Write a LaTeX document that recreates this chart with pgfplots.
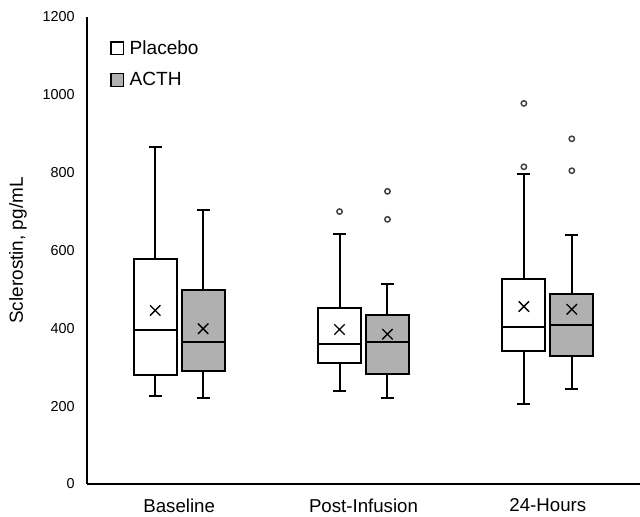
\documentclass[border=0pt]{standalone}
\usepackage{pgfplots}
\pgfplotsset{compat=1.18}
\usetikzlibrary{calc}
\usepackage{fontspec}
\setmainfont{Liberation Sans}
\definecolor{boxgray}{RGB}{176,176,176}

\begin{document}
\begin{tikzpicture}
\begin{axis}[name=ax, scale only axis, width=414.75pt, height=350.25pt,
  xmin=-0.5, xmax=2.5, ymin=0, ymax=1200,
  axis lines*=left,
  axis line style={line width=1.5pt, -},
  xtick={0,1,2}, xticklabels={Baseline,Post-Infusion,24-Hours},
  ytick={0,200,400,600,800,1000,1200},
  major tick length=0pt,
  xticklabel style={font=\fontsize{14}{16}\selectfont, inner sep=0pt, anchor=north, yshift=-11pt},
  yticklabel style={font=\fontsize{10.8}{13}\selectfont, inner sep=0pt, anchor=east, xshift=-9pt},
  /pgf/number format/assume math mode=true,
  /pgf/number format/1000 sep={},
  ylabel={Sclerostin, pg/mL},
  every axis y label/.style={at={(axis description cs:-0.1085,0.5)}, rotate=90, anchor=south, inner sep=0pt, font=\fontsize{14.2}{17}\selectfont},
  clip=false,
  unbounded coords=jump,
  legend image code/.code={\draw[#1,draw=black,line width=1pt] (0pt,-4.7pt) rectangle (9.4pt,4.7pt);},
  legend style={draw=none, fill=none, at={(axis description cs:0.042,0.956)}, anchor=north west, inner sep=0pt, font=\fontsize{14.3}{17}\selectfont, row sep=8pt, /tikz/every odd column/.append style={column sep=2pt}},
  legend cell align=left,
]
\addlegendimage{fill=white}
\addlegendentry{Placebo}
\addlegendimage{fill=boxgray}
\addlegendentry{ACTH}

% ---- boxes (Q1 to Q3) ----
\addplot[draw=black, fill=white, line width=1.5pt, line join=miter] coordinates {(-0.246,281) (-0.014,281) (-0.014,579) (-0.246,579) (-0.246,281)} -- cycle;
\addplot[draw=black, fill=boxgray, line width=1.5pt, line join=miter] coordinates {(0.014,291) (0.246,291) (0.246,499) (0.014,499) (0.014,291)} -- cycle;
\addplot[draw=black, fill=white, line width=1.5pt, line join=miter] coordinates {(0.754,312) (0.986,312) (0.986,451) (0.754,451) (0.754,312)} -- cycle;
\addplot[draw=black, fill=boxgray, line width=1.5pt, line join=miter] coordinates {(1.014,282) (1.246,282) (1.246,433) (1.014,433) (1.014,282)} -- cycle;
\addplot[draw=black, fill=white, line width=1.5pt, line join=miter] coordinates {(1.754,341) (1.986,341) (1.986,527) (1.754,527) (1.754,341)} -- cycle;
\addplot[draw=black, fill=boxgray, line width=1.5pt, line join=miter] coordinates {(2.014,329) (2.246,329) (2.246,489) (2.014,489) (2.014,329)} -- cycle;

% ---- medians, whiskers, caps ----
% Baseline placebo: lw 227, med 396, uw 866
\addplot[black, line width=1.5pt] coordinates {(-0.246,396) (-0.014,396) (-0.13,nan) (-0.13,579) (-0.13,866) (-0.13,nan) (-0.165,866) (-0.095,866) (-0.13,nan) (-0.13,281) (-0.13,227) (-0.13,nan) (-0.165,227) (-0.095,227)};
% Baseline ACTH: lw 222, med 365, uw 704
\addplot[black, line width=1.5pt] coordinates {(0.014,365) (0.246,365) (0.13,nan) (0.13,499) (0.13,704) (0.13,nan) (0.095,704) (0.165,704) (0.13,nan) (0.13,291) (0.13,222) (0.13,nan) (0.095,222) (0.165,222)};
% Post-Infusion placebo: lw 238, med 361, uw 643
\addplot[black, line width=1.5pt] coordinates {(0.754,361) (0.986,361) (0.87,nan) (0.87,451) (0.87,643) (0.87,nan) (0.835,643) (0.905,643) (0.87,nan) (0.87,312) (0.87,238) (0.87,nan) (0.835,238) (0.905,238)};
% Post-Infusion ACTH: lw 222, med 365, uw 513
\addplot[black, line width=1.5pt] coordinates {(1.014,365) (1.246,365) (1.13,nan) (1.13,433) (1.13,513) (1.13,nan) (1.095,513) (1.165,513) (1.13,nan) (1.13,282) (1.13,222) (1.13,nan) (1.095,222) (1.165,222)};
% 24-Hours placebo: lw 206, med 404, uw 797
\addplot[black, line width=1.5pt] coordinates {(1.754,404) (1.986,404) (1.87,nan) (1.87,527) (1.87,797) (1.87,nan) (1.835,797) (1.905,797) (1.87,nan) (1.87,341) (1.87,206) (1.87,nan) (1.835,206) (1.905,206)};
% 24-Hours ACTH: lw 245, med 409, uw 639
\addplot[black, line width=1.5pt] coordinates {(2.014,409) (2.246,409) (2.13,nan) (2.13,489) (2.13,639) (2.13,nan) (2.095,639) (2.165,639) (2.13,nan) (2.13,329) (2.13,245) (2.13,nan) (2.095,245) (2.165,245)};

% ---- outliers ----
\addplot[only marks, mark=o, mark size=2pt, mark options={line width=1.1pt, fill=white, draw=black!75}] coordinates {(0.87,700) (1.13,752) (1.13,680) (1.87,978) (1.87,815) (2.13,887) (2.13,805)};
% ---- means ----
\addplot[only marks, mark=x, mark size=5.5pt, mark options={line width=1pt, draw=black}] coordinates {(-0.13,446) (0.13,399) (0.87,397) (1.13,385) (1.87,456) (2.13,449)};
\end{axis}
\pgfresetboundingbox
\path ($(ax.south west)+(-65.25pt,-24pt)$) rectangle ($(ax.north east)+(0pt,12.75pt)$);
\end{tikzpicture}
\end{document}
